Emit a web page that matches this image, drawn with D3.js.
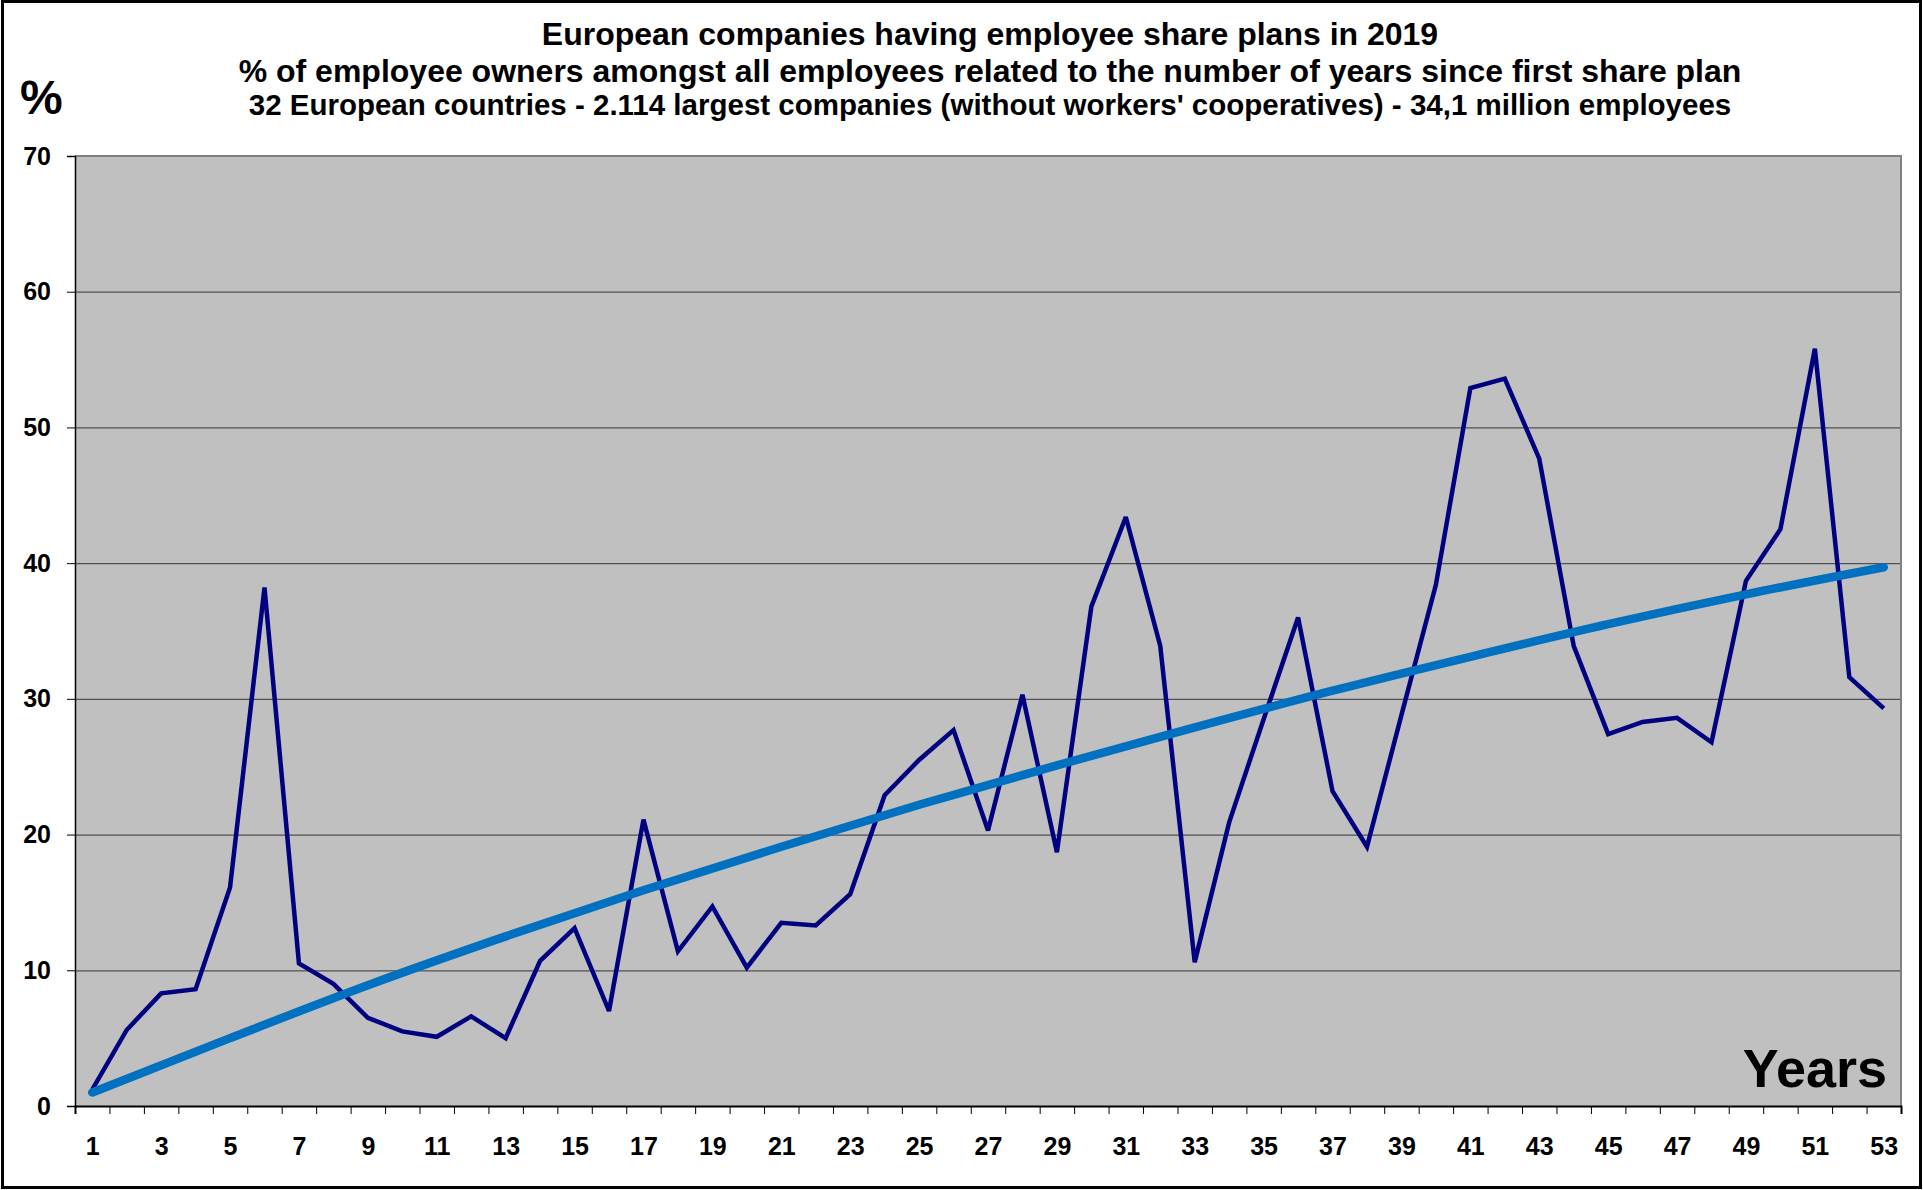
<!DOCTYPE html>
<html>
<head>
<meta charset="utf-8">
<script src="https://cdn.jsdelivr.net/npm/d3@7"></script>
<style>
  html, body { margin: 0; padding: 0; background: #fff; }
  svg { display: block; font-family: "Liberation Sans", Arial, sans-serif; font-weight: bold; }
</style>
</head>
<body>
<div id="chart"></div>
<script>
// data
var years = d3.range(1, 54);
var shareValues = [
  1.2, 5.6, 8.3, 8.6, 16.1, 38.2, 10.5, 9.0, 6.5, 5.5,
  5.1, 6.6, 5.0, 10.7, 13.1, 7.0, 21.1, 11.4, 14.7, 10.2,
  13.5, 13.3, 15.6, 22.9, 25.5, 27.7, 20.3, 30.3, 18.7, 36.8,
  43.4, 33.9, 10.6, 20.9, 28.5, 36.0, 23.2, 19.1, 28.8, 38.4,
  52.9, 53.6, 47.7, 33.9, 27.4, 28.3, 28.6, 26.8, 38.7, 42.5,
  55.8, 31.6, 29.3
];
// trend line (polynomial trend)
var trendYears = [1, 5, 9, 13, 17, 21, 25, 29, 33, 37, 41, 45, 49, 53];
var trendValues = [1.0, 5.0, 8.9, 12.5, 15.9, 19.1, 22.2, 25.1, 27.9, 30.6, 33.1, 35.5, 37.7, 39.7];
var yTicks = [0, 10, 20, 30, 40, 50, 60, 70];
var xLabels = years.filter(function (d) { return d % 2 === 1; });
var titleLines = [
  "European companies having employee share plans in 2019",
  "% of employee owners amongst all employees related to the number of years since first share plan",
  "32 European countries - 2.114 largest companies (without workers' cooperatives) - 34,1 million employees"
];

var width = 1923, height = 1190;
var plot = { left: 75, right: 1901, top: 156, bottom: 1106 };

var svg = d3.select("#chart").append("svg")
  .attr("width", width)
  .attr("height", height);

// outer frame
svg.append("rect")
  .attr("x", 2.5).attr("y", 1.5)
  .attr("width", width - 5).attr("height", height - 4)
  .attr("fill", "#fff")
  .attr("stroke", "#000")
  .attr("stroke-width", 3);

var x = d3.scaleLinear().domain([0.5, 53.5]).range([plot.left, plot.right]);
var y = d3.scaleLinear().domain([0, 70]).range([plot.bottom, plot.top]);

// plot background
svg.append("rect")
  .attr("x", plot.left).attr("y", plot.top)
  .attr("width", plot.right - plot.left)
  .attr("height", plot.bottom - plot.top)
  .attr("fill", "#c0c0c0");

// gridlines
var grid = svg.append("g")
  .attr("transform", "translate(" + plot.left + ",0)")
  .call(d3.axisLeft(y).tickValues([10, 20, 30, 40, 50, 60])
    .tickSize(-(plot.right - plot.left)).tickFormat(""));
grid.select(".domain").remove();
grid.selectAll("line").attr("stroke", "#505050").attr("stroke-width", 1.3);

// top and right border of plot area (grey)
svg.append("path")
  .attr("d", "M" + plot.left + "," + plot.top + "H" + plot.right + "V" + plot.bottom)
  .attr("fill", "none")
  .attr("stroke", "#808080")
  .attr("stroke-width", 2);

// y axis
var gY = svg.append("g")
  .attr("transform", "translate(" + plot.left + ",0)")
  .call(d3.axisLeft(y).tickValues(yTicks).tickSize(8).tickPadding(16));
gY.select(".domain").attr("stroke", "#000").attr("stroke-width", 1.5);
gY.selectAll("line").attr("stroke", "#000");
gY.selectAll("text")
  .attr("font-size", 25)
  .attr("font-weight", "bold")
  .attr("fill", "#000")
  .attr("font-family", "Liberation Sans, Arial, sans-serif");

// x axis: ticks between categories
var edges = d3.range(0.5, 54, 1);
var gXTicks = svg.append("g")
  .attr("transform", "translate(0," + plot.bottom + ")")
  .call(d3.axisBottom(x).tickValues(edges).tickSize(8).tickFormat(""));
gXTicks.select(".domain").attr("stroke", "#000").attr("stroke-width", 2);
gXTicks.selectAll("line").attr("stroke", "#000");

// x axis labels (every second year)
var gXLabels = svg.append("g")
  .attr("transform", "translate(0," + plot.bottom + ")")
  .call(d3.axisBottom(x).tickValues(xLabels).tickSize(0).tickPadding(31));
gXLabels.select(".domain").remove();
gXLabels.selectAll("text")
  .attr("font-size", 25)
  .attr("font-weight", "bold")
  .attr("fill", "#000")
  .attr("font-family", "Liberation Sans, Arial, sans-serif");

var series = years.map(function (d, i) { return { year: d, value: shareValues[i] }; });
var trend = trendYears.map(function (d, i) { return { year: d, value: trendValues[i] }; });

var line = d3.line()
  .x(function (d) { return x(d.year); })
  .y(function (d) { return y(d.value); });

svg.append("path")
  .datum(series)
  .attr("d", line)
  .attr("fill", "none")
  .attr("stroke", "#000080")
  .attr("stroke-width", 4.5)
  .attr("stroke-linejoin", "miter")
  .attr("stroke-miterlimit", 3);

var trendLine = d3.line()
  .curve(d3.curveMonotoneX)
  .x(function (d) { return x(d.year); })
  .y(function (d) { return y(d.value); });

svg.append("path")
  .datum(trend)
  .attr("d", trendLine)
  .attr("fill", "none")
  .attr("stroke", "#0070c0")
  .attr("stroke-width", 8.5)
  .attr("stroke-linecap", "round");

// titles
var titleSizes = [32, 32, 29.5];
var titleY = [45, 82, 115];
svg.selectAll(".title")
  .data(titleLines)
  .enter()
  .append("text")
  .attr("class", "title")
  .attr("x", 990)
  .attr("y", function (d, i) { return titleY[i]; })
  .attr("text-anchor", "middle")
  .attr("font-size", function (d, i) { return titleSizes[i]; })
  .text(function (d) { return d; });

// axis titles
svg.append("text")
  .attr("x", 20).attr("y", 114)
  .attr("font-size", 48)
  .text("%");

svg.append("text")
  .attr("x", 1887).attr("y", 1087)
  .attr("text-anchor", "end")
  .attr("font-size", 54)
  .text("Years");
</script>
</body>
</html>
